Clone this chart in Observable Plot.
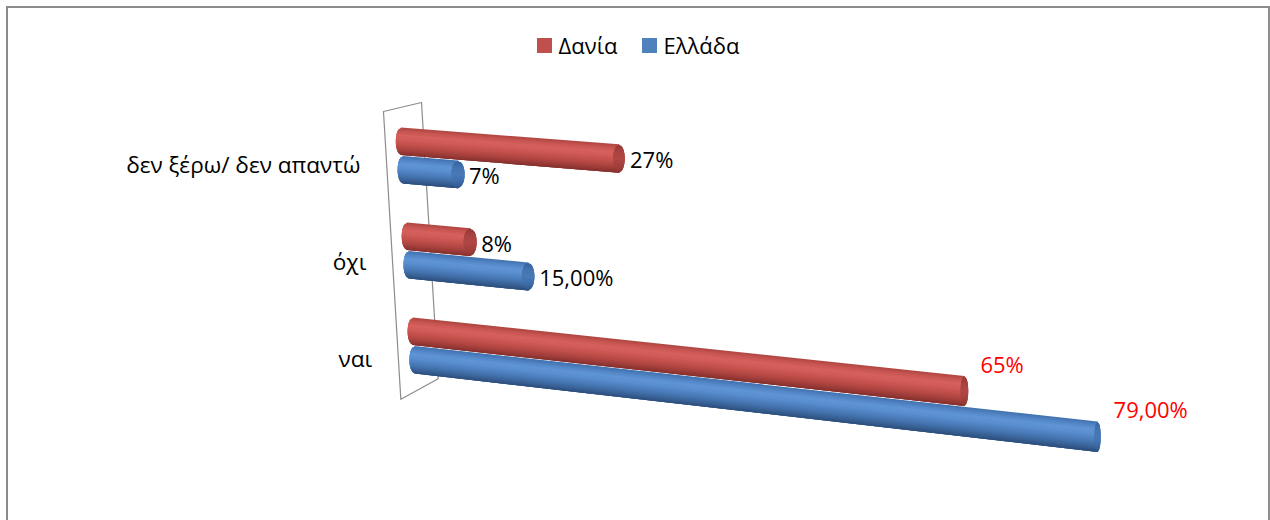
<!DOCTYPE html>
<html>
<head>
<meta charset="utf-8">
<script src="https://cdn.jsdelivr.net/npm/d3@7"></script>
<script src="https://cdn.jsdelivr.net/npm/@observablehq/plot@0.6"></script>
<style>
  body { margin: 0; background: #fff; font-family: 'Open Sans', sans-serif; }
  #frame { position: absolute; left: 6px; top: 6px; width: 1260px; height: 540px;
           border: 2px solid #8c8c8c; background: #fff; overflow: hidden; }
  #legend { height: 74px; display: flex; justify-content: center; align-items: center;
            gap: 24px; font-size: 22px; color: #000; }
  .item { display: flex; align-items: center; }
  .swatch { width: 15px; height: 15px; margin-right: 7px; }
</style>
</head>
<body>
<div id="frame"><div id="legend"></div></div>
<script>
// ---- data -------------------------------------------------------------
const categories = ["δεν ξέρω/ δεν απαντώ", "όχι", "ναι"];
const seriesNames = ["Δανία", "Ελλάδα"];
const daniaValues = [27, 8, 65];
const elladaValues = [7, 15, 79];
const daniaLabels = ["27%", "8%", "65%"];
const elladaLabels = ["7%", "15,00%", "79,00%"];
const highlightedCategory = "ναι";

// ---- styling ------------------------------------------------------------
const seriesColors = ["#C0504D", "#4F81BD"];
const bodyShades = [
  ["#ad4541", "#c95653", "#d6615d", "#d05b57", "#c4514d", "#b54844", "#9e3c39", "#82302d"],
  ["#4170ac", "#5386c6", "#5f95d5", "#598ecf", "#4f81c0", "#4473ae", "#386195", "#2c4d7a"]
];
const capShades = [
  ["#913633", "#a8423f", "#b04744", "#a4403d", "#8c3431"],
  ["#35619b", "#4473b0", "#4a79b6", "#3f6dab", "#2f5488"]
];
const fontSize = 22;

// ---- 3D perspective helpers (x unit = one percent, y unit = one category) ----
const seriesOffset = [-0.15, 0.15];       // depth of each series inside a category
const vanish = {X: -833.3, Y: -5.584};     // vanishing point of the value direction
const beta = 0.0012;                       // foreshortening along the value axis
const barThickness = 0.2895;               // cylinder diameter at value 0
const stripCount = 20;
const stripOverlap = 2 / stripCount;       // each strip runs over the next one

function scaleAt(v) { return 1 / (1 - beta * v); }
function project(v, d) {
  const X0 = 0.7554 * d, Y0 = d, s = scaleAt(v);
  return {X: vanish.X + (X0 - vanish.X) * s, Y: vanish.Y + (Y0 - vanish.Y) * s};
}
// side wall at value 0: d runs down the category axis, z across the wall's depth
const wallVanish = {X: 118.2, Y: -2.816};
function wallPoint(d, z) {
  const C = {X: 0.378 + 0.7337 * d, Y: d};
  return {X: C.X + (wallVanish.X - C.X) * 0.0206 * z, Y: C.Y + (wallVanish.Y - C.Y) * 0.0206 * z};
}

// ---- bars -----------------------------------------------------------------
const bars = categories.flatMap((category, ci) => seriesNames.map((series, si) => ({
  category, series, ci, si,
  value: [daniaValues, elladaValues][si][ci],
  label: [daniaLabels, elladaLabels][si][ci]
})));

const ell = f => Math.sqrt(Math.max(0, 1 - (2 * f - 1) ** 2));

// each cylinder = overlapping shaded strips along its length, then an end cap
const cylinderRows = bars.flatMap((b, bi) => {
  const d = b.ci + seriesOffset[b.si];
  const L = project(0, d), R = project(b.value, d);
  const TL = barThickness, TR = barThickness * scaleAt(b.value);
  const rxL = 0.68, rxR = 0.883 - 0.0055 * R.X;
  const body = d3.piecewise(d3.interpolateRgb, bodyShades[b.si]);
  const cap = d3.piecewise(d3.interpolateRgb, capShades[b.si]);
  const rows = [];
  const strip = (key, color, fa, fb, xl, xr, rl, rr, yl, yr, tl, tr) => {
    rows.push({key, color, tx: xl - rl * ell(fa), ty: yl + (fa - 0.5) * tl, bx: xl - rl * ell(fb), by: yl + (fb - 0.5) * tl});
    rows.push({key, color, tx: xr + rr * ell(fa), ty: yr + (fa - 0.5) * tr, bx: xr + rr * ell(fb), by: yr + (fb - 0.5) * tr});
  };
  for (let k = 0; k < stripCount; k++) {
    const fa = k / stripCount, fb = Math.min(1, (k + 1) / stripCount + stripOverlap);
    strip(`b${bi}-${k}`, body((k + 0.5) / stripCount), fa, fb, L.X, R.X, rxL, 0, L.Y, R.Y, TL, TR);
  }
  for (let k = 0; k < stripCount; k++) {
    const fa = k / stripCount, fb = Math.min(1, (k + 1) / stripCount + stripOverlap);
    strip(`c${bi}-${k}`, cap((k + 0.5) / stripCount), fa, fb, R.X, R.X, rxR, rxR, R.Y, R.Y, TR, TR);
  }
  return rows;
});

const valueLabels = bars.map(b => {
  const R = project(b.value, b.ci + seriesOffset[b.si]);
  return {X: R.X, Y: R.Y, text: b.label, highlighted: b.category === highlightedCategory};
});

const wallOutline = [[-0.516, -1], [-0.516, 1], [2.453, 1], [2.453, -1], [-0.516, -1]]
  .map(([d, z]) => wallPoint(d, z));

const categoryLabels = categories.map((c, ci) => ({...wallPoint(ci, -1), text: c}));

// ---- legend ----------------------------------------------------------------
const legend = d3.select("#legend");
seriesNames.forEach((s, i) => {
  const item = legend.append("div").attr("class", "item");
  item.append("div").attr("class", "swatch").style("background", seriesColors[i]);
  item.append("span").text(s);
});

// ---- chart -----------------------------------------------------------------
const chart = Plot.plot({
  width: 1260,
  height: 438,
  margin: 0,
  style: {fontFamily: "'Open Sans', sans-serif", fontSize: `${fontSize}px`, background: "transparent", overflow: "visible"},
  x: {domain: [-50.448, 110.883], axis: null},
  y: {domain: [-0.77368, 3.83684], reverse: true, axis: null},
  color: {type: "identity"},
  marks: [
    Plot.line(wallOutline, {x: "X", y: "Y", stroke: "#8c8c8c", strokeWidth: 1.2}),
    Plot.area(cylinderRows, {x1: "bx", y1: "by", x2: "tx", y2: "ty", z: "key",
      fill: "color", curve: "linear"}),
    Plot.text(categoryLabels, {x: "X", y: "Y", text: "text", textAnchor: "end",
      dx: -26, dy: 4, fontSize: 22.6, fill: "#000"}),
    Plot.text(valueLabels.filter(d => !d.highlighted), {x: "X", y: "Y", text: "text",
      textAnchor: "start", dx: 10.5, dy: 2, fontSize, fill: "#000"}),
    Plot.text(valueLabels.filter(d => d.highlighted), {x: "X", y: "Y", text: "text",
      textAnchor: "start", dx: 15.5, dy: -26, fontSize, fill: "#ff0000"})
  ]
});
document.getElementById("frame").appendChild(chart);
</script>
</body>
</html>
